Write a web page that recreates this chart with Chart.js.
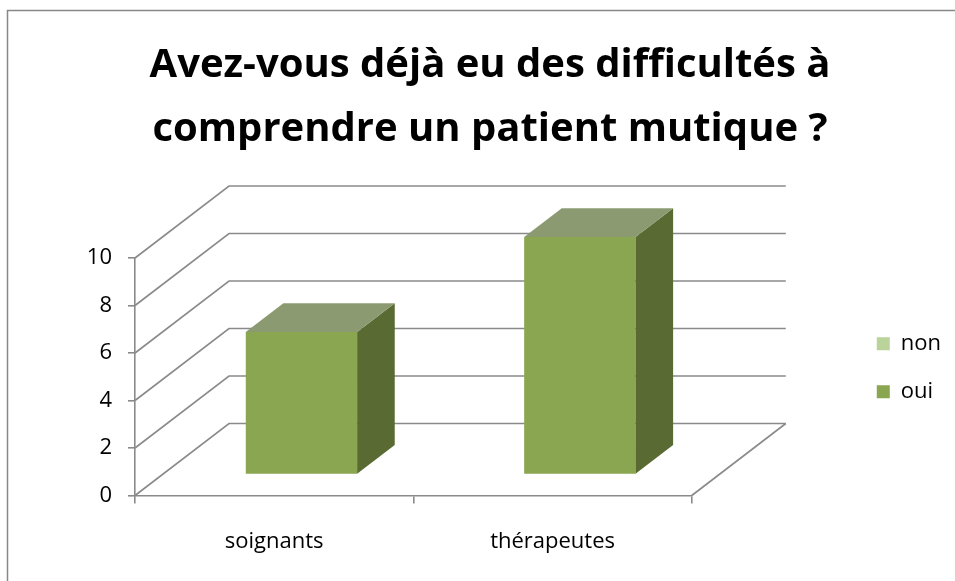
<!DOCTYPE html>
<html><head><meta charset="utf-8">
<script src="https://cdn.jsdelivr.net/npm/chart.js@4/dist/chart.umd.min.js"></script>
<style>html,body{margin:0;padding:0;background:#fff}#wrap{width:955px;height:581px;position:relative}</style>
</head><body><div id="wrap"><canvas id="c" width="955" height="581"></canvas></div>
<script>
// ---- data ----
const categories = ['soignants', 'thérapeutes'];
const seriesNames = ['oui', 'non'];
const ouiValues = [6, 10];
const nonValues = [0, 0];
const yTicks = [0, 2, 4, 6, 8, 10];
const titleLines = ['Avez-vous déjà eu des difficultés à', 'comprendre un patient mutique ?'];

// ---- style ----
const FONT = 'Open Sans';
const GRID = '#8a8a8a';
const COLORS = {
  oui: {front: '#8aa650', side: '#596b32', top: '#8c9a72'},
  non: {front: '#b9d39a', side: '#7c9460', top: '#b8c4a4'}
};
const DEPTH = {dx: 94, dy: -72, front: 0.29, back: 0.69};

const threeD = {
  id: 'threeD',
  afterLayout(chart) {
    if (chart.legend) { chart.legend.top -= 10; chart.legend.bottom -= 8; }
  },
  beforeDraw(chart) {
    const ctx = chart.ctx;
    ctx.save();
    ctx.fillStyle = '#fff';
    ctx.fillRect(0, 0, chart.width, chart.height);
    ctx.strokeStyle = '#888';
    ctx.lineWidth = 1.5;
    ctx.strokeRect(7.5, 10.5, 1200, 1200);
    ctx.restore();
  },
  beforeDatasetsDraw(chart) {
    const ctx = chart.ctx, ys = chart.scales.y, a = chart.chartArea;
    const {dx, dy} = DEPTH;
    ctx.save();
    ctx.strokeStyle = GRID;
    ctx.lineWidth = 1.6;
    ys.ticks.forEach(t => {
      const y = ys.getPixelForValue(t.value);
      ctx.beginPath();
      ctx.moveTo(a.left, y);
      ctx.lineTo(a.left + dx, y + dy);
      ctx.lineTo(a.right + dx, y + dy);
      ctx.stroke();
    });
    ctx.beginPath();
    ctx.moveTo(a.right, a.bottom);
    ctx.lineTo(a.right + dx, a.bottom + dy);
    ctx.stroke();
    ctx.restore();
  },
  beforeDatasetDraw(chart) {
    chart.ctx.save();
    chart.ctx.translate(DEPTH.dx * DEPTH.front, DEPTH.dy * DEPTH.front);
  },
  afterDatasetDraw(chart) {
    chart.ctx.restore();
  },
  afterDatasetsDraw(chart) {
    const ctx = chart.ctx;
    const ox = DEPTH.dx * DEPTH.front, oy = DEPTH.dy * DEPTH.front;
    const bdx = DEPTH.dx * (DEPTH.back - DEPTH.front), bdy = DEPTH.dy * (DEPTH.back - DEPTH.front);
    const nds = chart.data.datasets.length;
    ctx.save();
    chart.data.datasets.forEach((ds, di) => {
      const meta = chart.getDatasetMeta(di);
      const col = COLORS[ds.label];
      meta.data.forEach((bar, i) => {
        const p = bar.getProps(['x', 'y', 'base', 'width'], true);
        const top = Math.min(p.y, p.base), bot = Math.max(p.y, p.base);
        if (bot - top < 0.5) return;
        const xl = p.x - p.width / 2 + ox, xr = p.x + p.width / 2 + ox;
        const yt = top + oy, yb = bot + oy;
        ctx.fillStyle = col.side;
        ctx.beginPath();
        ctx.moveTo(xr, yt); ctx.lineTo(xr + bdx, yt + bdy);
        ctx.lineTo(xr + bdx, yb + bdy); ctx.lineTo(xr, yb);
        ctx.closePath(); ctx.fill();
        let isTop = true;
        for (let k = di + 1; k < nds; k++) {
          if (chart.data.datasets[k].data[i] > 0) isTop = false;
        }
        if (isTop) {
          ctx.fillStyle = col.top;
          ctx.beginPath();
          ctx.moveTo(xl, yt); ctx.lineTo(xr, yt);
          ctx.lineTo(xr + bdx, yt + bdy); ctx.lineTo(xl + bdx, yt + bdy);
          ctx.closePath(); ctx.fill();
        }
      });
    });
    ctx.restore();
  }
};

new Chart(document.getElementById('c'), {
  type: 'bar',
  data: {
    labels: categories,
    datasets: [
      {label: seriesNames[0], data: ouiValues, backgroundColor: COLORS.oui.front, borderWidth: 0},
      {label: seriesNames[1], data: nonValues, backgroundColor: COLORS.non.front, borderWidth: 0}
    ]
  },
  options: {
    responsive: false,
    devicePixelRatio: 1,
    animation: false,
    layout: {padding: {left: 29, right: 4, top: 0, bottom: 0}},
    datasets: {bar: {categoryPercentage: 1, barPercentage: 0.4, clip: false}},
    plugins: {
      tooltip: {enabled: false},
      title: {
        display: true,
        text: titleLines,
        color: '#000',
        font: {family: FONT, size: 40, weight: '700', lineHeight: 1.6},
        padding: {top: 34, bottom: 96}
      },
      legend: {
        position: 'right',
        fullSize: false,
        reverse: true,
        labels: {
          boxWidth: 13, boxHeight: 13, padding: 26,
          color: '#000',
          font: {family: FONT, size: 22}
        }
      }
    },
    scales: {
      x: {
        stacked: true,
        offset: true,
        grid: {display: true, drawOnChartArea: false, drawTicks: true, tickLength: 8, color: GRID, lineWidth: 1.6, offset: true},
        border: {display: true, color: GRID, width: 1.6},
        ticks: {color: '#000', font: {family: FONT, size: 22}, padding: 25, maxRotation: 0},
        afterFit: s => { s.height = 85.5; }
      },
      y: {
        stacked: true,
        min: 0, max: 10,
        afterBuildTicks: s => { s.ticks = yTicks.map(v => ({value: v})); },
        grid: {display: true, drawOnChartArea: false, drawTicks: true, tickLength: 7, color: GRID, lineWidth: 1.6},
        border: {display: true, color: GRID, width: 1.6},
        ticks: {color: '#000', font: {family: FONT, size: 22}, padding: 16},
        afterFit: s => { s.width = 106; }
      },
      spacer: {
        type: 'linear',
        position: 'right',
        display: true,
        grid: {display: false},
        border: {display: false},
        ticks: {display: false},
        afterFit: s => { s.width = 159; }
      }
    }
  },
  plugins: [threeD]
});
</script>
</body></html>
